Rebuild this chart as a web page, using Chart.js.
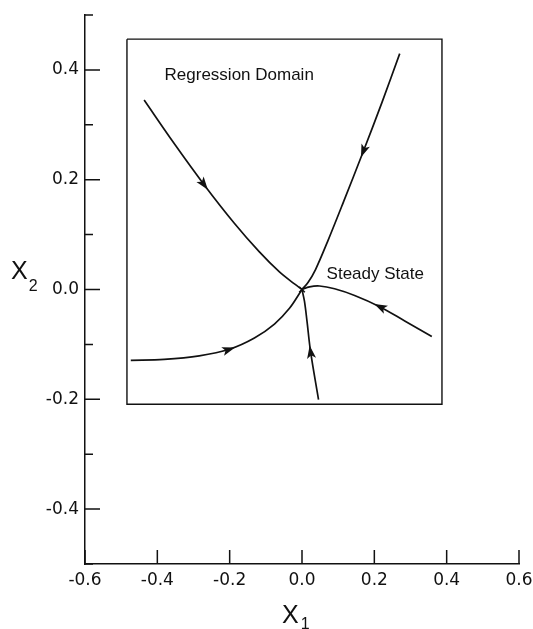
<!DOCTYPE html>
<html><head><meta charset="utf-8">
<script src="https://cdn.jsdelivr.net/npm/chart.js@4/dist/chart.umd.min.js"></script>
<style>html,body{margin:0;padding:0;background:#fff}canvas{display:block}</style>
</head><body>
<canvas id="c" width="533" height="629" style="width:533px;height:629px"></canvas>
<script>
// ---- tick values / labels ----
const xTickValues = [-0.6, -0.4, -0.2, 0.0, 0.2, 0.4, 0.6];
const xTickLabels = ['-0.6', '-0.4', '-0.2', '0.0', '0.2', '0.4', '0.6'];
const yTickValues = [-0.4, -0.2, 0.0, 0.2, 0.4];
const yTickLabels = ['-0.4', '-0.2', '0.0', '0.2', '0.4'];
const yMinorTicks = [-0.5, -0.3, -0.1, 0.1, 0.3, 0.5];

// ---- trajectories (ordered from start toward the steady state) ----
const upperLeftX = [-0.4365, -0.3534, -0.2703, -0.1871, -0.1178, -0.0624, -0.0208, 0.0];
const upperLeftY = [0.345, 0.2658, 0.1905, 0.1207, 0.0684, 0.0320, 0.0102, 0.0];
const upperRightX = [0.2702, 0.2217, 0.1691, 0.1150, 0.0707, 0.0374, 0.0166, 0.0];
const upperRightY = [0.4296, 0.3418, 0.2509, 0.1600, 0.0873, 0.0364, 0.0127, 0.0];
const lowerLeftX = [-0.4734, -0.3811, -0.2841, -0.2009, -0.1316, -0.0762, -0.0346, 0.0];
const lowerLeftY = [-0.1291, -0.1273, -0.1209, -0.1089, -0.0884, -0.0629, -0.0343, 0.0];
const bottomX = [0.0457, 0.0236, 0.0139, 0.0069, 0.0];
const bottomY = [-0.2005, -0.1127, -0.0582, -0.0218, 0.0];
const rightX = [0.3589, 0.2841, 0.2148, 0.1455, 0.0901, 0.0485, 0.0208, 0.0];
const rightY = [-0.0855, -0.0573, -0.0313, -0.0109, 0.0013, 0.0064, 0.0049, 0.0];
// index of the point carrying an arrowhead on each trajectory
const arrowAt = [2, 2, 3, 1, 2];

// ---- regression-domain box ----
const boxX = [-0.484, 0.387, 0.387, -0.484, -0.484];
const boxY = [0.456, 0.456, -0.209, -0.209, 0.456];

// ---- steady state ----
const steadyX = [0.0];
const steadyY = [0.0];

// ---- annotations ----
const notes = [
  { text: 'Regression Domain', x: -0.38, y: 0.391 },
  { text: 'Steady State', x: 0.068, y: 0.027 }
];

const zip = (xs, ys) => xs.map((x, i) => ({ x, y: ys[i] }));
const curves = [
  zip(upperLeftX, upperLeftY),
  zip(upperRightX, upperRightY),
  zip(lowerLeftX, lowerLeftY),
  zip(bottomX, bottomY),
  zip(rightX, rightY)
];

const lineDs = (data) => ({
  data, showLine: true, pointRadius: 0, borderColor: '#111', borderWidth: 1.7,
  tension: 0.35, fill: false
});

const datasets = [
  { data: zip(boxX, boxY), showLine: true, pointRadius: 0, borderColor: '#111', borderWidth: 1.4, tension: 0 },
  ...curves.map(lineDs),
  { data: zip(steadyX, steadyY), showLine: false, pointStyle: 'crossRot', pointRadius: 4,
    borderColor: '#111', borderWidth: 1.5 }
];

const near = (a, b) => Math.abs(a - b) < 1e-6;

const decor = {
  id: 'decor',
  afterDatasetsDraw(chart) {
    const ctx = chart.ctx, xs = chart.scales.x, ys = chart.scales.y;
    ctx.save();
    ctx.fillStyle = '#111';
    curves.forEach((c, k) => {
      const i = arrowAt[k];
      const p = c[i], a = c[i - 1], b = c[i + 1];
      const px = xs.getPixelForValue(p.x), py = ys.getPixelForValue(p.y);
      const dx = xs.getPixelForValue(b.x) - xs.getPixelForValue(a.x);
      const dy = ys.getPixelForValue(b.y) - ys.getPixelForValue(a.y);
      const L = Math.hypot(dx, dy), ux = dx / L, uy = dy / L;
      const tipX = px + ux * 6, tipY = py + uy * 6;
      const bx = px - ux * 7, by = py - uy * 7;
      ctx.beginPath();
      ctx.moveTo(tipX, tipY);
      ctx.lineTo(bx - uy * 4.5, by + ux * 4.5);
      ctx.lineTo(px - ux * 4, py - uy * 4);
      ctx.lineTo(bx + uy * 4.5, by - ux * 4.5);
      ctx.closePath();
      ctx.fill();
    });
    // annotations
    ctx.font = '17px "Liberation Sans", Arial, sans-serif';
    ctx.textBaseline = 'middle';
    ctx.textAlign = 'left';
    notes.forEach(n => ctx.fillText(n.text, xs.getPixelForValue(n.x), ys.getPixelForValue(n.y)));
    ctx.restore();
  },
  afterDraw(chart) {
    const ctx = chart.ctx, xs = chart.scales.x, ys = chart.scales.y;
    const area = chart.chartArea;
    ctx.save();
    ctx.strokeStyle = '#111';
    ctx.lineWidth = 1.5;
    ctx.beginPath();
    yTickValues.forEach(v => { const y = ys.getPixelForValue(v); ctx.moveTo(area.left, y); ctx.lineTo(area.left + 15, y); });
    yMinorTicks.forEach(v => { const y = ys.getPixelForValue(v); ctx.moveTo(area.left, y); ctx.lineTo(area.left + 8, y); });
    xTickValues.forEach(v => { const x = xs.getPixelForValue(v); ctx.moveTo(x, area.bottom); ctx.lineTo(x, area.bottom - 14); });
    ctx.stroke();
    // axis titles with subscripts
    ctx.fillStyle = '#111';
    ctx.textBaseline = 'alphabetic';
    ctx.textAlign = 'left';
    const big = '25px "Liberation Sans", Arial, sans-serif';
    const small = '16px "Liberation Sans", Arial, sans-serif';
    // X1 under x axis
    const cx = (area.left + area.right) / 2 - 20;
    ctx.font = big; ctx.fillText('X', cx, 623);
    const w1 = ctx.measureText('X').width;
    ctx.font = small; ctx.fillText('1', cx + w1 + 2, 629);
    // X2 left of y axis
    const yc = ys.getPixelForValue(0.0) - 20;
    ctx.font = big; ctx.fillText('X', 11, yc + 9);
    const w2 = ctx.measureText('X').width;
    ctx.font = small; ctx.fillText('2', 11 + w2 + 1, yc + 21);
    ctx.restore();
  }
};

new Chart(document.getElementById('c'), {
  type: 'scatter',
  data: { datasets },
  options: {
    responsive: false,
    devicePixelRatio: 1,
    animation: false,
    layout: { padding: { top: 15, right: 14, left: 0, bottom: 0 } },
    plugins: { legend: { display: false }, tooltip: { enabled: false } },
    scales: {
      x: {
        type: 'linear', min: -0.6, max: 0.6,
        grid: { display: false, drawTicks: false },
        border: { display: true, color: '#111', width: 1.5 },
        ticks: {
          stepSize: 0.2, autoSkip: false, maxRotation: 0, padding: 6, color: '#111',
          font: { family: '"DejaVu Sans", sans-serif', size: 17 },
          callback: (v) => { const i = xTickValues.findIndex(t => near(t, v)); return i >= 0 ? xTickLabels[i] : ''; }
        },
        afterFit: (s) => { s.height = 65; s.paddingLeft = 0; s.paddingRight = 0; }
      },
      y: {
        type: 'linear', min: -0.5, max: 0.5,
        grid: { display: false, drawTicks: false },
        border: { display: true, color: '#111', width: 1.5 },
        ticks: {
          stepSize: 0.1, autoSkip: false, padding: 6, color: '#111',
          font: { family: '"DejaVu Sans", sans-serif', size: 17 },
          callback: (v) => { const i = yTickValues.findIndex(t => near(t, v)); return i >= 0 ? yTickLabels[i] : ''; }
        },
        afterFit: (s) => { s.width = 85; s.paddingTop = 0; s.paddingBottom = 0; }
      }
    }
  },
  plugins: [decor]
});
</script>
</body></html>
